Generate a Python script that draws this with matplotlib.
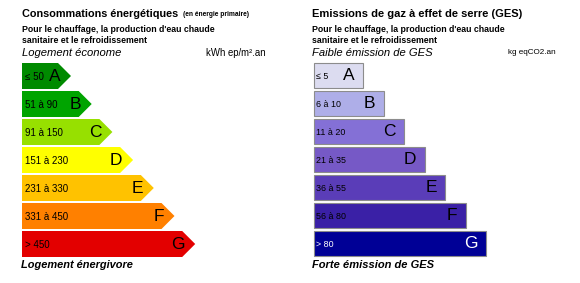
import matplotlib
matplotlib.use("Agg")
import matplotlib.pyplot as plt
from matplotlib.patches import Polygon, Rectangle

plt.rcParams['font.family'] = ['Liberation Sans', 'DejaVu Sans']

classes = ['A', 'B', 'C', 'D', 'E', 'F', 'G']
energy_ranges = ['≤ 50', '51 à 90', '91 à 150', '151 à 230', '231 à 330', '331 à 450', '> 450']
ges_ranges = ['≤ 5', '6 à 10', '11 à 20', '21 à 35', '36 à 55', '56 à 80', '> 80']
energy_colors = ['#008a00', '#00a400', '#97e000', '#ffff00', '#ffc200', '#ff8000', '#e30000']
ges_colors = ['#dcdcf0', '#aeaee8', '#8470d6', '#7659c6', '#5a3db8', '#3a20a6', '#000096']
ges_text_colors = ['black'] * 6 + ['white']

W, H = 580, 283
fig = plt.figure(figsize=(W / 100, H / 100), dpi=100)
ax = fig.add_axes([0, 0, 1, 1])
ax.set_xlim(0, W)
ax.set_ylim(H, 0)
ax.axis('off')

top0, pitch, bh = 63, 28, 26

# ---- Energy panel ----
ex0 = 22
ax.text(ex0, 14, 'Consommations énergétiques', fontsize=7.8, fontweight='bold', va='center', ha='left')
ax.text(183, 14, '(en énergie primaire)', fontsize=4.8, fontweight='bold', va='center', ha='left')
ax.text(ex0, 30, "Pour le chauffage, la production d'eau chaude", fontsize=6.3, fontweight='bold', va='center')
ax.text(ex0, 40.5, "sanitaire et le refroidissement", fontsize=6.3, fontweight='bold', va='center')
ax.text(ex0, 53, 'Logement économe', fontsize=8.1, style='italic', va='center')
ax.text(206, 53, 'kWh ep/m².an', fontsize=6.9, va='center')
for i, (c, r, col) in enumerate(zip(classes, energy_ranges, energy_colors)):
    y = top0 + i * pitch
    xe = 58 + i * 20.7
    pts = [(ex0, y), (xe, y), (xe + bh / 2, y + bh / 2), (xe, y + bh), (ex0, y + bh)]
    ax.add_patch(Polygon(pts, closed=True, facecolor=col, edgecolor='none'))
    ax.text(ex0 + 3, y + bh / 2 + 1, r, fontsize=7, va='center', ha='left')
    ax.text(xe + 2.5, y + bh / 2 + 0.5, c, fontsize=12.5, va='center', ha='right')
ax.text(ex0 - 1, 265, 'Logement énergivore', fontsize=7.9, style='italic', fontweight='bold', va='center')

# ---- GES panel ----
gx0 = 314
ax.text(312, 14, 'Emissions de gaz à effet de serre (GES)', fontsize=8, fontweight='bold', va='center')
ax.text(312, 30, "Pour le chauffage, la production d'eau chaude", fontsize=6.3, fontweight='bold', va='center')
ax.text(312, 40.5, "sanitaire et le refroidissement", fontsize=6.3, fontweight='bold', va='center')
ax.text(312, 53, 'Faible émission de GES', fontsize=8.1, style='italic', va='center')
ax.text(508, 53, 'kg eqCO2.an', fontsize=5.9, va='center')
for i, (c, r, col, tc) in enumerate(zip(classes, ges_ranges, ges_colors, ges_text_colors)):
    y = top0 + i * pitch
    xe = 363 + i * 20.5
    ax.add_patch(Rectangle((gx0, y), xe - gx0, bh - 1, facecolor=col, edgecolor='#8c8c8c', linewidth=0.8))
    ax.text(gx0 + 2.5, y + bh / 2 + 0.5, r, fontsize=6.4, va='center', ha='left', color=tc)
    ax.text(xe - 8, y + bh / 2, c, fontsize=12.5, va='center', ha='right', color=tc)
ax.text(312, 265, 'Forte émission de GES', fontsize=8, style='italic', fontweight='bold', va='center')

fig.savefig('out.png', dpi=100)
